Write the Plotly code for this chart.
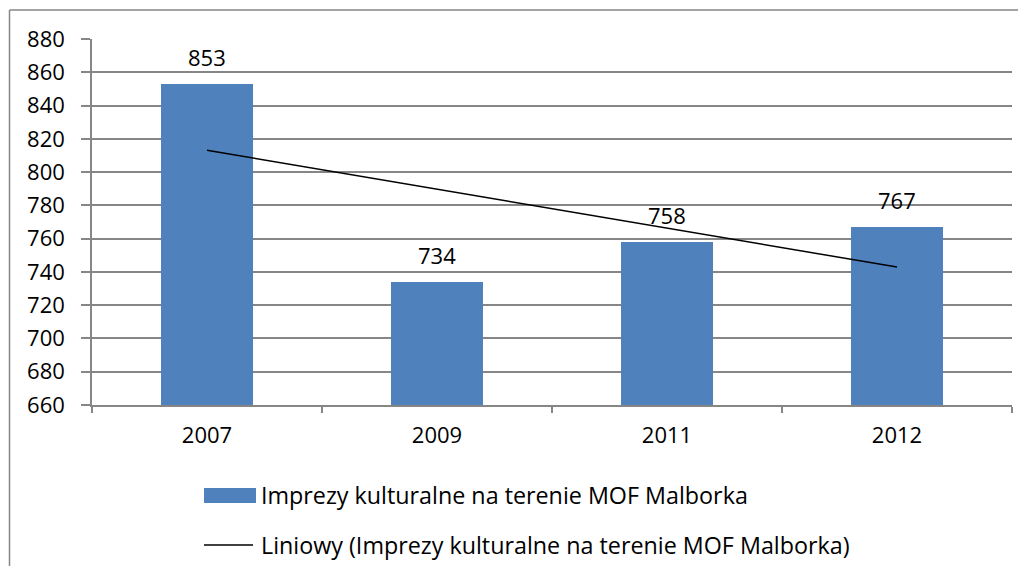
import plotly.graph_objects as go

categories = ["2007", "2009", "2011", "2012"]
values = [853, 734, 758, 767]
trend_x = ["2007", "2012"]
trend_values = [813.1, 742.9]
y_ticks = list(range(660, 881, 20))
series_name = "Imprezy kulturalne na terenie MOF Malborka"
trend_name = "Liniowy (Imprezy kulturalne na terenie MOF Malborka)"

FONT = "Open Sans, Lato, sans-serif"
FS = 22
FS_LEG = 23.3
OFF = 8  # page body margin offset seen in the screenshot
W, H = 1026 - 2 * OFF, 574 - 2 * OFF
# desired plot area on screen: x 92..1012, y 39..405
L = 92 - OFF
T = 39 - OFF
R = W - (1012 - OFF)
B = H - (405 - OFF)
pw, ph = W - L - R, H - T - B

def px_x(x):
    return (x - 92) / pw

def px_y(y):
    return (405 - y) / ph

fig = go.Figure()
fig.add_trace(go.Bar(x=categories, y=values, marker_color="#4F81BD",
                     marker_line_width=0, name=series_name, showlegend=False))
fig.add_trace(go.Scatter(x=trend_x, y=trend_values, mode="lines",
                         line=dict(color="black", width=1.5),
                         name=trend_name, showlegend=False))

for i, v in enumerate(values):
    fig.add_annotation(x=i, y=v, text=str(v), showarrow=False,
                       yanchor="middle", yshift=27,
                       font=dict(family=FONT, size=FS, color="black"))

# outer chart border: only the left and top sides are inside the picture
border = dict(color="#868686", width=1.5)
fig.add_shape(type="line", xref="paper", yref="paper",
              x0=px_x(9.5), x1=px_x(9.5), y0=px_y(580), y1=px_y(10), line=border)
fig.add_shape(type="line", xref="paper", yref="paper",
              x0=px_x(9.5), x1=px_x(1030), y0=px_y(10), y1=px_y(10), line=border)

# custom legend
fig.add_shape(type="rect", xref="paper", yref="paper",
              x0=px_x(204), x1=px_x(256), y0=px_y(503), y1=px_y(488),
              line_width=0, fillcolor="#4F81BD")
fig.add_shape(type="line", xref="paper", yref="paper",
              x0=px_x(204), x1=px_x(253), y0=px_y(545), y1=px_y(545),
              line=dict(color="black", width=1.5))
fig.add_annotation(xref="paper", yref="paper", x=px_x(259), y=px_y(495),
                   text=series_name, showarrow=False, xanchor="left",
                   yanchor="middle", font=dict(family=FONT, size=FS_LEG, color="black"))
fig.add_annotation(xref="paper", yref="paper", x=px_x(259), y=px_y(545),
                   text=trend_name, showarrow=False, xanchor="left",
                   yanchor="middle", font=dict(family=FONT, size=FS_LEG, color="black"))

fig.update_layout(
    width=W, height=H,
    margin=dict(l=L, r=R, t=T, b=B, pad=0),
    paper_bgcolor="white", plot_bgcolor="white",
    bargap=0.6,
    showlegend=False,
    font=dict(family=FONT, size=FS, color="black"),
)
fig.update_xaxes(type="category", range=[-0.5, 3.5], showgrid=False, showline=True,
                 linecolor="#868686", linewidth=1.5,
                 ticks="outside", tickson="boundaries", ticklen=6,
                 tickcolor="#868686", tickwidth=1.5, tickangle=0,
                 tickfont=dict(family=FONT, size=FS, color="black"),
                 ticklabelstandoff=10)
fig.update_yaxes(range=[660, 880], tickvals=y_ticks, showgrid=True,
                 gridcolor="#868686", gridwidth=1.5, showline=True,
                 linecolor="#868686", linewidth=1.5,
                 ticks="outside", ticklen=9, tickcolor="#868686", tickwidth=1.5,
                 tickfont=dict(family=FONT, size=FS, color="black"),
                 ticklabelstandoff=12, zeroline=False)

fig.write_html("out.html")
